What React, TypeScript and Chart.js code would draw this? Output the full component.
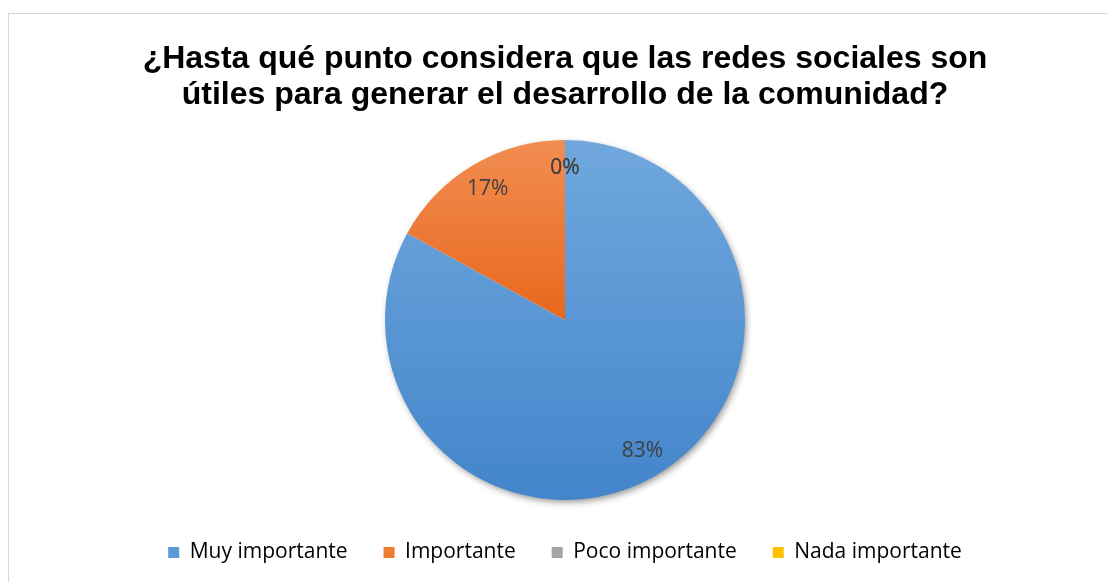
import React, { useEffect, useRef } from "react";
import { Chart, registerables } from "chart.js";

Chart.register(...registerables);

const titleLines = [
  "¿Hasta qué punto considera que las redes sociales son",
  "útiles para generar el desarrollo de la comunidad?",
];
const categories = ["Muy importante", "Importante", "Poco importante", "Nada importante"];
const values = [83, 17, 0, 0];
const legendColors = ["#5B9BD5", "#ED7D31", "#A5A5A5", "#FFC000"];
const gradientTop = ["#70A8DD", "#F28D52", "#B5B5B5", "#FFCC33"];
const gradientBottom = ["#4385CB", "#E8671C", "#959595", "#F0B400"];

const borderPlugin = {
  id: "outerBorder",
  beforeDraw(chart: any) {
    const ctx = chart.ctx;
    ctx.save();
    ctx.fillStyle = "#ffffff";
    ctx.fillRect(0, 0, chart.width, chart.height);
    ctx.strokeStyle = "#D9D9D9";
    ctx.lineWidth = 1;
    ctx.strokeRect(8.5, 13.5, 1300, 700);
    ctx.restore();
  },
};

const shadowPlugin = {
  id: "pieShadow",
  beforeDatasetsDraw(chart: any) {
    const meta = chart.getDatasetMeta(0);
    const arc = meta.data[0];
    if (!arc) return;
    const { x, y, outerRadius } = arc.getProps(["x", "y", "outerRadius"], true);
    const ctx = chart.ctx;
    ctx.save();
    ctx.shadowColor = "rgba(0,0,0,0.45)";
    ctx.shadowBlur = 7;
    ctx.shadowOffsetX = 2;
    ctx.shadowOffsetY = 3;
    ctx.fillStyle = "#ffffff";
    ctx.beginPath();
    ctx.arc(x, y, outerRadius - 1, 0, Math.PI * 2);
    ctx.fill();
    ctx.restore();
  },
};

const labelPlugin = {
  id: "pctLabels",
  afterDatasetsDraw(chart: any) {
    const meta = chart.getDatasetMeta(0);
    const data = chart.data.datasets[0].data as number[];
    const total = data.reduce((a, b) => a + b, 0);
    const ctx = chart.ctx;
    ctx.save();
    ctx.font = "21px 'Open Sans'";
    ctx.fillStyle = "#404040";
    ctx.textAlign = "center";
    ctx.textBaseline = "middle";
    meta.data.forEach((arc: any, i: number) => {
      const { x, y, startAngle, endAngle, outerRadius } = arc.getProps(
        ["x", "y", "startAngle", "endAngle", "outerRadius"],
        true
      );
      const mid = (startAngle + endAngle) / 2;
      const r = outerRadius * 0.845;
      const pct = Math.round((data[i] / total) * 100);
      ctx.fillText(pct + "%", x + Math.cos(mid) * r, y + Math.sin(mid) * r);
    });
    ctx.restore();
  },
};

const PIE_RADIUS = 180;

function sliceFill(context: any) {
  const i = context.dataIndex;
  const c = context.chart;
  const area = c.chartArea;
  if (!area) return legendColors[i];
  const cy = (area.top + area.bottom) / 2;
  const R = Math.min(PIE_RADIUS, Math.min(area.right - area.left, area.bottom - area.top) / 2);
  const data = c.data.datasets[0].data as number[];
  const total = data.reduce((a: number, b: number) => a + b, 0);
  let start = -Math.PI / 2;
  for (let k = 0; k < i; k++) start += (data[k] / total) * Math.PI * 2;
  const end = start + (data[i] / total) * Math.PI * 2;
  const ys: number[] = [cy];
  const steps = 90;
  for (let k = 0; k <= steps; k++) {
    const a = start + ((end - start) * k) / steps;
    ys.push(cy + Math.sin(a) * R);
  }
  const top = Math.min(...ys);
  const bottom = Math.max(...ys);
  if (!(bottom > top) || !isFinite(top)) return legendColors[i];
  const g = c.ctx.createLinearGradient(0, top, 0, bottom);
  g.addColorStop(0, gradientTop[i]);
  g.addColorStop(1, gradientBottom[i]);
  return g;
}

export default function App() {
  const ref = useRef<HTMLCanvasElement | null>(null);
  useEffect(() => {
    if (!ref.current) return;
    const chart = new Chart(ref.current, {
      type: "pie",
      data: {
        labels: categories,
        datasets: [
          {
            data: values,
            borderWidth: 0,
            radius: PIE_RADIUS,
            backgroundColor: sliceFill,
          },
        ],
      },
      options: {
        animation: false,
        responsive: true,
        maintainAspectRatio: false,
        layout: { padding: { left: 30, right: 8, top: 0, bottom: 9 } },
        plugins: {
          title: {
            display: true,
            text: titleLines,
            color: "#000000",
            font: { family: "'Liberation Sans', Arial, sans-serif", size: 32, weight: "bold", lineHeight: 1.125 },
            padding: { top: 41, bottom: 21 },
          },
          legend: {
            position: "bottom",
            labels: {
              boxWidth: 11,
              boxHeight: 11,
              padding: 36,
              color: "#595959",
              font: { family: "'Open Sans', sans-serif", size: 21 },
              generateLabels: () =>
                categories.map((c, i) => ({
                  text: c,
                  fillStyle: legendColors[i],
                  strokeStyle: legendColors[i],
                  lineWidth: 0,
                  hidden: false,
                  index: i,
                  datasetIndex: 0,
                })),
            },
          },
          tooltip: { enabled: false },
        },
      },
      plugins: [borderPlugin, shadowPlugin, labelPlugin],
    });
    return () => chart.destroy();
  }, []);
  return (
    <div style={{ position: "absolute", left: 0, top: 0, width: 1108, height: 582 }}>
      <canvas ref={ref} />
    </div>
  );
}
